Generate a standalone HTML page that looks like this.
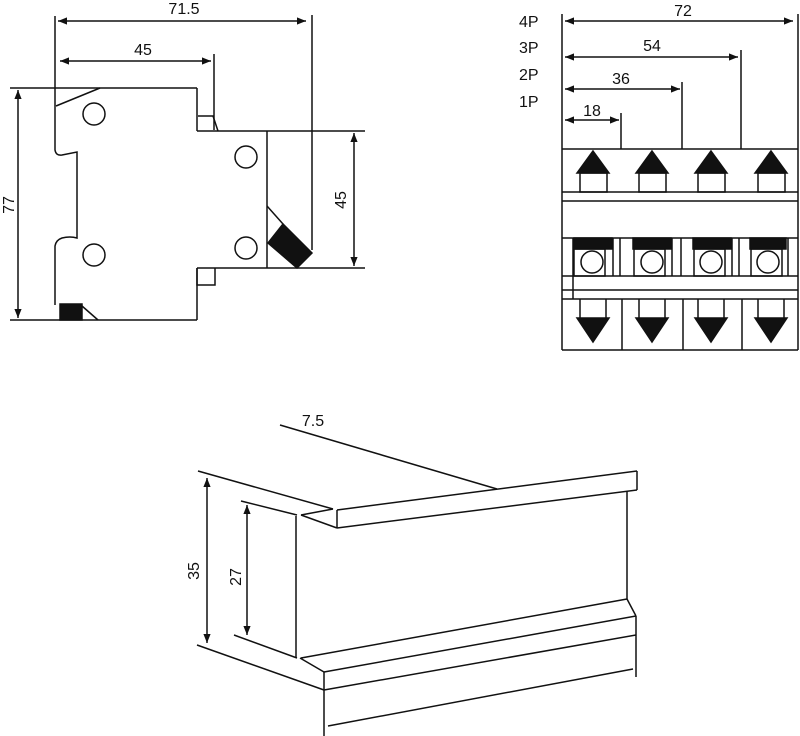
<!DOCTYPE html>
<html><head><meta charset="utf-8"><style>body{margin:0;background:#fff}svg{display:block}text{font-family:"Liberation Sans",sans-serif;fill:#111}</style></head><body>
<svg width="800" height="736" viewBox="0 0 800 736" xmlns="http://www.w3.org/2000/svg">
<defs>
<marker id="a" viewBox="0 0 10 10" refX="10" refY="5" markerWidth="8" markerHeight="6" orient="auto-start-reverse"><path d="M0,1 L10,5 L0,9 Z" fill="#111"/></marker>
</defs>
<g stroke="#111" stroke-width="1.5" fill="none">
<!-- left view -->
<line x1="55" y1="16" x2="55" y2="106"/>
<line x1="312" y1="15" x2="312" y2="250"/>
<line x1="58" y1="21" x2="306" y2="21" marker-start="url(#a)" marker-end="url(#a)"/>
<line x1="214" y1="54" x2="214" y2="130"/>
<line x1="60" y1="61" x2="211" y2="61" marker-start="url(#a)" marker-end="url(#a)"/>
<line x1="10" y1="88" x2="197" y2="88"/>
<line x1="56" y1="106" x2="100" y2="88"/>
<path d="M55,106 V150 Q56,156 62,155 L77,152 V238 Q70,236 62,238 Q56,240 55,246 V305"/>
<line x1="10" y1="320" x2="197" y2="320"/>
<line x1="197" y1="88" x2="197" y2="131"/>
<path d="M198,116 H213 L218,131"/>
<line x1="197" y1="131" x2="365" y2="131"/>
<line x1="267" y1="131" x2="267" y2="268"/>
<line x1="197" y1="268" x2="365" y2="268"/>
<line x1="197" y1="268" x2="197" y2="320"/>
<path d="M197,268 V285 H215 V268"/>
<circle cx="94" cy="114" r="11"/><circle cx="94" cy="255" r="11"/>
<circle cx="246" cy="157" r="11"/><circle cx="246" cy="248" r="11"/>
<line x1="267" y1="206" x2="283" y2="224"/>
<polygon points="268,243 283,224 312,253 297,268" fill="#111"/>
<rect x="60" y="304" width="22" height="16" fill="#111"/>
<line x1="82" y1="306" x2="98" y2="320"/>
<line x1="18" y1="90" x2="18" y2="318" marker-start="url(#a)" marker-end="url(#a)"/>
<line x1="354" y1="133" x2="354" y2="266" marker-start="url(#a)" marker-end="url(#a)"/>
<!-- right view -->
<line x1="562" y1="14" x2="562" y2="350"/>
<line x1="798" y1="14" x2="798" y2="350"/>
<line x1="565" y1="21" x2="793" y2="21" marker-start="url(#a)" marker-end="url(#a)"/>
<line x1="741" y1="50" x2="741" y2="149"/>
<line x1="565" y1="57" x2="738" y2="57" marker-start="url(#a)" marker-end="url(#a)"/>
<line x1="682" y1="82" x2="682" y2="149"/>
<line x1="565" y1="89" x2="680" y2="89" marker-start="url(#a)" marker-end="url(#a)"/>
<line x1="621" y1="113" x2="621" y2="149"/>
<line x1="565" y1="120" x2="619" y2="120" marker-start="url(#a)" marker-end="url(#a)"/>
<line x1="562" y1="149" x2="798" y2="149"/>
<line x1="562" y1="192" x2="798" y2="192"/>
<line x1="562" y1="201" x2="798" y2="201"/>
<line x1="562" y1="238" x2="798" y2="238"/>
<line x1="562" y1="276" x2="798" y2="276"/>
<line x1="562" y1="290" x2="798" y2="290"/>
<line x1="562" y1="299" x2="798" y2="299"/>
<line x1="562" y1="350" x2="798" y2="350"/>
<line x1="573" y1="238" x2="573" y2="299"/>
<g>
<polygon points="593,151 577,173 609,173" fill="#111"/><rect x="580" y="173" width="27" height="19"/>
<polygon points="652,151 636,173 668,173" fill="#111"/><rect x="639" y="173" width="27" height="19"/>
<polygon points="711,151 695,173 727,173" fill="#111"/><rect x="698" y="173" width="27" height="19"/>
<polygon points="771,151 755,173 787,173" fill="#111"/><rect x="758" y="173" width="27" height="19"/>
</g>
<rect x="574" y="238" width="38" height="11" fill="#111"/><rect x="574" y="249" width="31" height="27"/><circle cx="592" cy="262" r="11"/>
<rect x="633" y="238" width="38" height="11" fill="#111"/><rect x="634" y="249" width="31" height="27"/><circle cx="652" cy="262" r="11"/>
<rect x="693" y="238" width="38" height="11" fill="#111"/><rect x="694" y="249" width="31" height="27"/><circle cx="711" cy="262" r="11"/>
<rect x="750" y="238" width="36" height="11" fill="#111"/><rect x="751" y="249" width="31" height="27"/><circle cx="768" cy="262" r="11"/>
<line x1="620" y1="238" x2="620" y2="276"/><line x1="681" y1="238" x2="681" y2="276"/><line x1="739" y1="238" x2="739" y2="276"/>
<line x1="613" y1="238" x2="613" y2="276"/><line x1="672" y1="238" x2="672" y2="276"/><line x1="732" y1="238" x2="732" y2="276"/><line x1="788" y1="238" x2="788" y2="276"/>
<line x1="622" y1="299" x2="622" y2="350"/><line x1="683" y1="299" x2="683" y2="350"/><line x1="742" y1="299" x2="742" y2="350"/>
<g>
<path d="M580,299 V318 M606,299 V318"/><polygon points="577,318 609,318 593,342" fill="#111"/>
<path d="M639,299 V318 M665,299 V318"/><polygon points="636,318 668,318 652,342" fill="#111"/>
<path d="M698,299 V318 M724,299 V318"/><polygon points="695,318 727,318 711,342" fill="#111"/>
<path d="M758,299 V318 M784,299 V318"/><polygon points="755,318 787,318 771,342" fill="#111"/>
</g>
<!-- rail -->
<line x1="280" y1="425" x2="497" y2="489"/>
<line x1="337" y1="510" x2="637" y2="471"/>
<line x1="337" y1="528" x2="637" y2="490"/>
<line x1="637" y1="471" x2="637" y2="490"/>
<line x1="337" y1="510" x2="337" y2="528"/>
<line x1="301" y1="515" x2="337" y2="528"/>
<line x1="301" y1="515" x2="333" y2="509"/>
<line x1="198" y1="471" x2="333" y2="509"/>
<line x1="296" y1="516" x2="296" y2="658"/>
<line x1="627" y1="491" x2="627" y2="599"/>
<line x1="241" y1="501" x2="297" y2="515"/>
<line x1="301" y1="658" x2="627" y2="599"/>
<line x1="627" y1="599" x2="636" y2="616"/>
<line x1="324" y1="672" x2="636" y2="616"/>
<line x1="324" y1="690" x2="636" y2="635"/>
<line x1="636" y1="616" x2="636" y2="677"/>
<line x1="324" y1="672" x2="324" y2="736"/>
<line x1="300" y1="658" x2="324" y2="672"/>
<line x1="197" y1="645" x2="324" y2="690"/>
<line x1="234" y1="635" x2="297" y2="658"/>
<line x1="328" y1="726" x2="633" y2="669"/>
<line x1="207" y1="478" x2="207" y2="643" marker-start="url(#a)" marker-end="url(#a)"/>
<line x1="247" y1="505" x2="247" y2="635" marker-start="url(#a)" marker-end="url(#a)"/>
</g>
<g font-size="16">
<text x="184" y="14" text-anchor="middle">71.5</text>
<text x="143" y="55" text-anchor="middle">45</text>
<text transform="translate(14,205) rotate(-90)" text-anchor="middle">77</text>
<text transform="translate(346,200) rotate(-90)" text-anchor="middle">45</text>
<text x="683" y="16" text-anchor="middle">72</text>
<text x="652" y="51" text-anchor="middle">54</text>
<text x="621" y="84" text-anchor="middle">36</text>
<text x="592" y="116" text-anchor="middle">18</text>
<text x="519" y="27">4P</text>
<text x="519" y="53">3P</text>
<text x="519" y="80">2P</text>
<text x="519" y="107">1P</text>
<text x="313" y="426" text-anchor="middle">7.5</text>
<text transform="translate(199,571) rotate(-90)" text-anchor="middle">35</text>
<text transform="translate(241,577) rotate(-90)" text-anchor="middle">27</text>
</g>
</svg>
</body></html>
